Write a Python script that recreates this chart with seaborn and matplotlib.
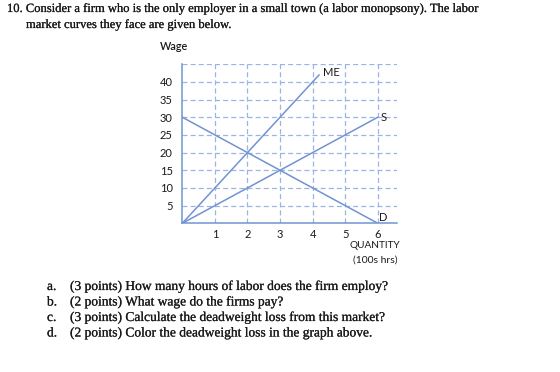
import matplotlib
matplotlib.use("Agg")
import matplotlib.pyplot as plt
import matplotlib.patheffects as pe
import seaborn as sns
import pandas as pd

# Data
me_q = [0, 4.2]
me_w = [0, 42]
s_q = [0, 6]
s_w = [0, 30]
d_q = [0, 6]
d_w = [30, 0]
x_ticks = [1, 2, 3, 4, 5, 6]
y_ticks = [5, 10, 15, 20, 25, 30, 35, 40]
grid_y = [5, 10, 15, 20, 25, 30, 35, 40, 45]

title_lines = ["10. Consider a firm who is the only employer in a small town (a labor monopsony). The labor",
               "market curves they face are given below."]
questions = [("a.", "(3 points) How many hours of labor does the firm employ?"),
             ("b.", "(2 points) What wage do the firms pay?"),
             ("c.", "(3 points) Calculate the deadweight loss from this market?"),
             ("d.", "(2 points) Color the deadweight loss in the graph above.")]

sns.set_theme(style="white")
plt.rcParams['font.family'] = ['Lato', 'DejaVu Sans']
plt.rcParams['text.color'] = '#1a1a1a'

line_c = "#7093d3"
grid_c = "#9db3e0"

fig = plt.figure(figsize=(5.6, 3.72), dpi=100)
ax = fig.add_axes([182.3/560, 1-223.3/372, (396.7-182.3)/560, (223.3-63.5)/372])

df = pd.concat([
    pd.DataFrame({"q": me_q, "w": me_w, "curve": "ME"}),
    pd.DataFrame({"q": s_q, "w": s_w, "curve": "S"}),
    pd.DataFrame({"q": d_q, "w": d_w, "curve": "D"}),
])
for name in ["ME", "S", "D"]:
    sub = df[df.curve == name]
    sns.lineplot(data=sub, x="q", y="w", ax=ax, color=line_c, lw=1.1, sort=False)

ax.set_xlim(0, 6.58)
ax.set_ylim(0, 45.2)
for x in x_ticks:
    ax.axvline(x, color=grid_c, ls=(0, (4, 2.5)), lw=0.9, zorder=0)
for y in grid_y:
    ax.axhline(y, color=grid_c, ls=(0, (4, 2.5)), lw=0.9, zorder=0)

for s in ["top", "right"]:
    ax.spines[s].set_visible(False)
for s in ["left", "bottom"]:
    ax.spines[s].set_color(line_c)
    ax.spines[s].set_linewidth(1.1)

ax.set_xticks(x_ticks)
ax.set_yticks(y_ticks)
ax.set_xticklabels([str(v) for v in x_ticks], fontsize=8, color='#1a1a1a')
ax.set_yticklabels([str(v) for v in y_ticks], fontsize=8, color='#1a1a1a')
ax.tick_params(axis="x", length=0, pad=4)
ax.tick_params(axis="y", length=0, pad=7)
ax.set_xlabel("")
ax.set_ylabel("")
ax.grid(False)

ax.text(4.32, 42.6, "ME", fontsize=8, ha="left", va="center")
ax.text(6.08, 30, "S", fontsize=8, ha="left", va="center")
ax.text(6.05, 1.6, "D", fontsize=8, ha="left", va="center")

fig.text(160/560, 1-46.5/372, "Wage", fontsize=7.8, ha="left", va="center", fontweight="semibold")
fig.text(375/560, 1-245.5/372, "QUANTITY", fontsize=7.2, ha="center", va="center")
fig.text(375/560, 1-260/372, "(100s hrs)", fontsize=7.5, ha="center", va="center")

serif = ['Liberation Serif', 'DejaVu Serif']
thick = [pe.withStroke(linewidth=0.15, foreground='#1a1a1a')]
fig.text(7/560, 1-9/372, title_lines[0], fontsize=9.05, family=serif, ha="left", va="center", path_effects=thick)
fig.text(26/560, 1-25/372, title_lines[1], fontsize=9.05, family=serif, ha="left", va="center", path_effects=thick)
ys = [287, 302.5, 318, 333.5]
for (lab, q), y in zip(questions, ys):
    fig.text(47/560, 1-y/372, lab, fontsize=9.7, family=serif, ha="left", va="center", path_effects=thick)
    fig.text(70/560, 1-y/372, q, fontsize=9.7, family=serif, ha="left", va="center", path_effects=thick)

fig.savefig("out.png", dpi=100)
